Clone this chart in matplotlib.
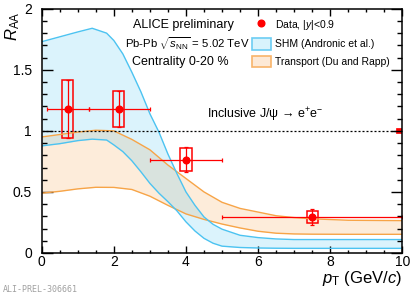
import matplotlib
matplotlib.use("Agg")
import matplotlib.pyplot as plt
import numpy as np
from matplotlib.lines import Line2D
from matplotlib.patches import Patch, Rectangle
from matplotlib.ticker import MultipleLocator, FormatStrFormatter

plt.rcParams['font.family'] = ['Liberation Sans', 'DejaVu Sans']
plt.rcParams['mathtext.fontset'] = 'custom'
plt.rcParams['mathtext.rm'] = 'Liberation Sans'
plt.rcParams['mathtext.it'] = 'Liberation Sans:italic'

# data points (ALICE preliminary)
pt = [0.72, 2.14, 4.0, 7.5]
raa = [1.18, 1.18, 0.765, 0.295]
bin_lo = [0.15, 1.3, 3.0, 5.0]
bin_hi = [1.3, 3.0, 5.0, 10.0]
stat = [0.24, 0.15, 0.105, 0.062]
syst = [0.24, 0.15, 0.093, 0.048]
glob_unc = 0.02

# SHM band (Andronic et al.)
shm_x = [0, 0.5, 1.0, 1.4, 1.8, 2.0, 2.25, 2.5, 2.75, 3.0, 3.25, 3.5, 3.75,
         4.0, 4.25, 4.5, 4.75, 5.0, 5.5, 6.0, 6.5, 7.0, 8.0, 10.0]
shm_hi = [1.73, 1.77, 1.81, 1.84, 1.80, 1.74, 1.63, 1.48, 1.32, 1.14, 0.99, 0.81, 0.65,
          0.50, 0.39, 0.295, 0.235, 0.195, 0.145, 0.126, 0.115, 0.11, 0.11, 0.11]
shm_lo = [0.877, 0.895, 0.92, 0.932, 0.925, 0.885, 0.83, 0.755, 0.665, 0.57, 0.49, 0.42, 0.345,
          0.255, 0.18, 0.12, 0.08, 0.056, 0.045, 0.041, 0.039, 0.038, 0.038, 0.038]

# Transport band (Du and Rapp)
tr_x = [0, 0.5, 1.0, 1.5, 2.0, 2.5, 3.0, 3.5, 4.0, 4.5, 5.0, 5.5, 6.0, 6.5, 7.0, 7.5, 8.5, 10.0]
tr_hi = [0.95, 0.97, 0.99, 1.005, 1.0, 0.93, 0.845, 0.72, 0.61, 0.50, 0.415, 0.365, 0.335,
         0.305, 0.29, 0.28, 0.268, 0.265]
tr_lo = [0.49, 0.505, 0.525, 0.538, 0.537, 0.52, 0.465, 0.39, 0.32, 0.275, 0.237, 0.205,
         0.178, 0.162, 0.156, 0.154, 0.153, 0.153]

blue = '#4cc3f1'
orange = '#f7a447'
red = '#ff0000'

fig = plt.figure(figsize=(4.15, 2.95), dpi=100)
ax = fig.add_axes([0.1005, 0.1424, 0.869, 0.828])

# transport first, SHM over it
ax.fill_between(tr_x, tr_lo, tr_hi, color=orange, alpha=0.2, lw=0)
ax.plot(tr_x, tr_hi, color=orange, lw=1.0)
ax.plot(tr_x, tr_lo, color=orange, lw=1.0)
ax.fill_between(shm_x, shm_lo, shm_hi, color=blue, alpha=0.2, lw=0)
ax.plot(shm_x, shm_hi, color=blue, lw=1.0)
ax.plot(shm_x, shm_lo, color=blue, lw=1.0)

ax.axhline(1, xmin=0, xmax=0.982, color='black', lw=0.9, ls=(0, (1.6, 1.6)))
ax.add_patch(Rectangle((9.82, 1 - glob_unc), 0.18, 2 * glob_unc, facecolor=red, edgecolor=red, lw=0.5))

# data
pt = np.array(pt)
raa = np.array(raa)
xerr = [pt - np.array(bin_lo), np.array(bin_hi) - pt]
for x, y, s in zip(pt, raa, syst):
    ax.add_patch(Rectangle((x - 0.155, y - s), 0.31, 2 * s, fill=False, edgecolor=red, lw=1.1))
ax.errorbar(pt, raa, xerr=xerr, yerr=stat, fmt='o', color=red, ms=4.8, lw=0.9,
            capsize=1.2, capthick=0.9)

ax.set_xlim(0, 10)
ax.set_ylim(0, 2)
ax.xaxis.set_major_locator(MultipleLocator(2))
ax.xaxis.set_minor_locator(MultipleLocator(0.5))
ax.yaxis.set_major_locator(MultipleLocator(0.5))
ax.yaxis.set_minor_locator(MultipleLocator(0.1))
ax.yaxis.set_major_formatter(FormatStrFormatter('%g'))
ax.tick_params(axis='both', which='both', direction='in', top=True, right=True, labelsize=10, width=1.0)
ax.tick_params(axis='x', which='major', length=4.8, pad=1.5)
ax.tick_params(axis='x', which='minor', length=2.4)
ax.tick_params(axis='y', which='major', length=7.9, pad=7)
ax.tick_params(axis='y', which='minor', length=3.6)
for sp in ax.spines.values():
    sp.set_linewidth(1.1)

fig.text(13 / 415, 1 - 11 / 295, r'$R_{\rm AA}$', rotation=90, ha='center', va='top', fontsize=12)
fig.text(402 / 415, 1 - 278 / 295, r'$p_{\rm T}$ (GeV/$c$)', ha='right', va='center', fontsize=12)

fig.text(183 / 415, 1 - 25 / 295, 'ALICE preliminary', ha='center', va='center', fontsize=9)
fig.text(125 / 415, 1 - 43.5 / 295, r'Pb-Pb $\sqrt{s_{\rm NN}}$ = 5.02 TeV', ha='left', va='center', fontsize=8.2)
fig.text(180 / 415, 1 - 62 / 295, 'Centrality 0-20 %', ha='center', va='center', fontsize=9)
fig.text(207 / 415, 1 - 114.5 / 295, r'Inclusive J/ψ → e$^{+}$e$^{-}$', ha='left', va='center', fontsize=9)

fig.text(3 / 415, 1 - 289 / 295, 'ALI-PREL-306661', ha='left', va='center', fontsize=6,
         family='DejaVu Sans Mono', color='#a0a0a0')

handles = [
    Line2D([], [], marker='o', ls='none', color=red, ms=4.8),
    Patch(facecolor='#d8f3fc', edgecolor='#6ccdf3', lw=1.2),
    Patch(facecolor='#fde9d6', edgecolor='#f8b46a', lw=1.2),
]
labels = [r'Data, $|y|$<0.9', 'SHM (Andronic et al.)', 'Transport (Du and Rapp)']
ax.legend(handles, labels, loc='upper left', bbox_to_anchor=(0.583, 0.962), frameon=False,
          fontsize=7.5, borderpad=0, borderaxespad=0, handlelength=1.8, handleheight=1.35,
          handletextpad=0.4, labelspacing=0.57)

fig.savefig('out.png', dpi=100)
